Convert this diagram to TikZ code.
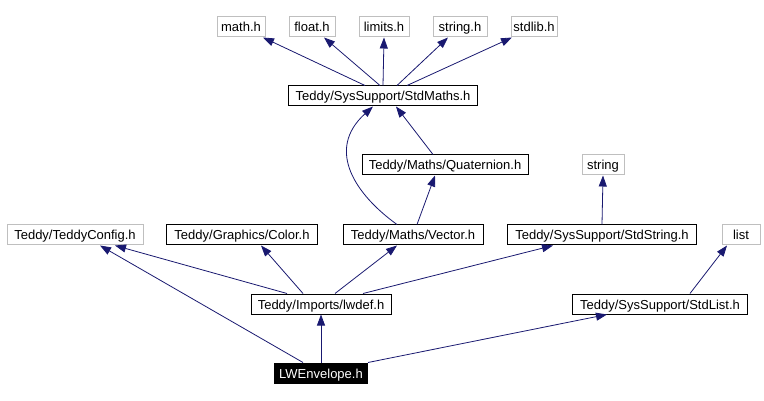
\documentclass[tikz,border=0pt]{standalone}
\usepackage{fontspec}
\setmainfont{Liberation Sans}
\usetikzlibrary{arrows.meta,calc}
\definecolor{edgeblue}{HTML}{191970}
\definecolor{extgray}{HTML}{BFBFBF}
\begin{document}
\begin{tikzpicture}[x=1pt,y=-1pt,
 box/.style={line width=1pt, minimum height=20pt, inner sep=0pt, text height=11pt, text depth=1pt, font=\fontsize{13}{14}\selectfont, text=black, anchor=center},
 ext/.style={box, draw=extgray},
 int/.style={box, draw=black},
 cur/.style={box, draw=black, fill=black, text=white},
 dep/.style={draw=edgeblue, line width=0.8pt, -{Triangle[length=11pt,width=8pt]}}
]
\useasboundingbox (0,0) rectangle (764,401);
% nodes
\node[ext, minimum width=48pt] (mh) at (241,27) {math.h};
\node[ext, minimum width=46pt] (fh) at (312,27) {float.h};
\node[ext, minimum width=50pt] (lh) at (384,27) {limits.h};
\node[ext, minimum width=54pt] (sh) at (460,27) {string.h};
\node[ext, minimum width=46pt] (sth) at (534,27) {stdlib.h};
\node[int, minimum width=189pt] (sm) at (383,96) {Teddy/SysSupport/StdMaths.h};
\node[int, minimum width=166pt] (qt) at (445,165) {Teddy/Maths/Quaternion.h};
\node[ext, minimum width=42pt] (str) at (603,165) {string};
\node[ext, minimum width=136pt] (tc) at (75,235) {Teddy/TeddyConfig.h};
\node[int, minimum width=151pt] (cl) at (242,235) {Teddy/Graphics/Color.h};
\node[int, minimum width=140pt] (vc) at (413,235) {Teddy/Maths/Vector.h};
\node[int, minimum width=189pt] (ss) at (602,235) {Teddy/SysSupport/StdString.h};
\node[ext, minimum width=38pt] (ls) at (741,235) {list};
\node[int, minimum width=140pt] (iw) at (321,304) {Teddy/Imports/lwdef.h};
\node[int, minimum width=175pt] (sl) at (660,304) {Teddy/SysSupport/StdList.h};
\node[cur, minimum width=93pt] (lw) at (321,373) {LWEnvelope.h};
% edges
\draw[dep] ([xshift=-18pt]sm.north) -- ([xshift=22pt]mh.south);
\draw[dep] ([xshift=-3pt]sm.north) -- ([xshift=12pt]fh.south);
\draw[dep] (sm.north) -- (lh.south);
\draw[dep] ([xshift=14pt]sm.north) -- ([xshift=-12pt]sh.south);
\draw[dep] ([xshift=24pt]sm.north) -- ([xshift=-22pt]sth.south);
\draw[dep] ([xshift=-12pt]qt.north) -- ([xshift=13pt]sm.south);
\draw[dep] ([xshift=-16pt]vc.north) .. controls (356,195) and (325,150) .. ([xshift=-10pt]sm.south);
\draw[dep] ([xshift=4pt]vc.north) -- ([xshift=-10pt]qt.south);
\draw[dep] (ss.north) -- (str.south);
\draw[dep] ([xshift=-34pt]iw.north) -- ([xshift=40pt]tc.south);
\draw[dep] ([xshift=-18pt]iw.north) -- ([xshift=19pt]cl.south);
\draw[dep] ([xshift=14pt]iw.north) -- ([xshift=-16pt]vc.south);
\draw[dep] ([xshift=42pt]iw.north) -- ([xshift=-49pt]ss.south);
\draw[dep] ([xshift=30pt]sl.north) -- ([xshift=-14pt]ls.south);
\draw[dep] ([xshift=-18pt]lw.north) -- ([xshift=25pt]tc.south);
\draw[dep] (lw.north) -- (iw.south);
\draw[dep] (lw.north east) -- ([xshift=-53pt]sl.south);
\end{tikzpicture}
\end{document}
